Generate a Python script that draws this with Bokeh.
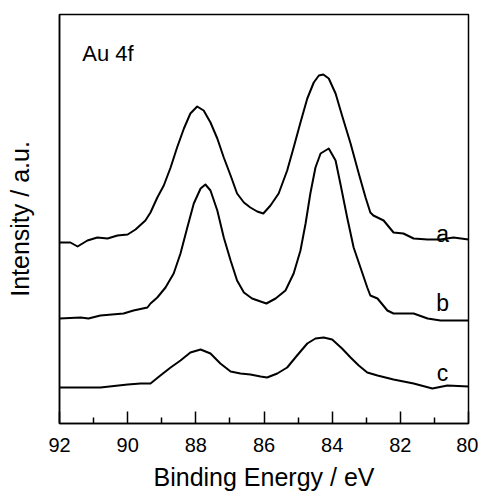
from bokeh.plotting import figure
from bokeh.models import Range1d, FixedTicker, Label
from bokeh.embed import file_html
from bokeh.resources import INLINE

# Binding energy (eV) and intensity (arbitrary units)
energy_a = [92.00, 91.68, 91.47, 91.18, 90.89, 90.59, 90.30, 90.00, 89.77, 89.48,
            89.33, 89.13, 88.94, 88.74, 88.55, 88.35, 88.16, 87.96, 87.77, 87.57,
            87.37, 87.18, 86.98, 86.79, 86.59, 86.40, 86.20, 86.02, 85.81, 85.57,
            85.32, 85.13, 84.93, 84.73, 84.54, 84.39, 84.26, 84.10, 83.90, 83.71,
            83.46, 83.22, 83.02, 82.88, 82.79, 82.49, 82.20, 81.91, 81.61, 81.20,
            80.82, 80.44, 80.00]
intens_a = [181, 181, 177, 183, 186, 185, 188, 189, 194, 203,
            211, 226, 238, 256, 276, 295, 310, 317, 313, 301,
            285, 266, 248, 230, 221, 216, 212, 210, 218, 230,
            253, 276, 301, 325, 341, 348, 349, 345, 330, 308,
            280, 250, 226, 211, 208, 203, 191, 190, 185, 184,
            184, 186, 184]

energy_b = [92.00, 91.38, 91.15, 90.80, 90.12, 89.83, 89.42, 89.33, 89.13, 88.89,
            88.65, 88.45, 88.25, 88.06, 87.86, 87.72, 87.57, 87.37, 87.18, 86.98,
            86.79, 86.59, 86.35, 86.10, 85.93, 85.66, 85.37, 85.13, 84.93, 84.78,
            84.64, 84.49, 84.34, 84.10, 83.90, 83.76, 83.56, 83.37, 83.17, 82.97,
            82.88, 82.67, 82.38, 82.20, 81.61, 81.20, 80.82, 80.00]
intens_b = [105, 106, 105, 108, 110, 113, 116, 120, 126, 136,
            150, 170, 196, 220, 235, 239, 233, 213, 186, 163,
            143, 131, 125, 122, 120, 125, 133, 150, 173, 200,
            230, 256, 270, 275, 263, 240, 206, 176, 156, 136,
            128, 125, 113, 110, 110, 105, 103, 103]

energy_c = [92.00, 90.80, 90.00, 89.62, 89.33, 89.04, 88.74, 88.45, 88.16, 87.86,
            87.57, 87.28, 86.98, 86.69, 86.40, 86.10, 85.91, 85.61, 85.32, 85.03,
            84.73, 84.49, 84.25, 84.00, 83.71, 83.46, 83.22, 82.97, 82.67, 82.20,
            81.61, 81.06, 80.62, 80.00]
intens_c = [36, 36, 39, 40, 40, 48, 56, 63, 71, 74,
            70, 60, 52, 50, 49, 47, 46, 50, 56, 68,
            80, 85, 86, 84, 75, 66, 58, 51, 48, 44,
            40, 35, 38, 37]

curve_names = ["a", "b", "c"]
label_energy = 80.76
label_intens = [190, 121, 51]

major_ticks = [92, 90, 88, 86, 84, 82, 80]
minor_ticks = [91, 89, 87, 85, 83, 81]

FONT = "Liberation Sans"

p = figure(width=478, height=494, output_backend="svg", toolbar_location=None,
           x_range=Range1d(92, 80), y_range=Range1d(0, 409),
           min_border_left=59, min_border_right=10, min_border_top=14, min_border_bottom=71)
p.grid.visible = False
p.outline_line_color = "black"
p.outline_line_width = 1.5
p.background_fill_color = "white"
p.border_fill_color = "white"

for xs, ys in [(energy_a, intens_a), (energy_b, intens_b), (energy_c, intens_c)]:
    p.line(xs, ys, line_color="black", line_width=2, line_join="round")

for name, yv in zip(curve_names, label_intens):
    p.add_layout(Label(x=label_energy, y=yv, text=name, text_font=FONT, text_font_size="23px",
                       text_align="center", text_baseline="middle", text_color="black"))

p.add_layout(Label(x=91.33, y=370, text="Au 4f", text_font=FONT, text_font_size="22px",
                   text_align="left", text_baseline="middle", text_color="black"))

xa = p.xaxis[0]
xa.ticker = FixedTicker(ticks=major_ticks, minor_ticks=minor_ticks)
xa.major_tick_in = 12
xa.major_tick_out = 0
xa.minor_tick_in = 6
xa.minor_tick_out = 0
xa.major_tick_line_width = 1.5
xa.minor_tick_line_width = 1.5
xa.axis_line_width = 1.5
xa.major_label_text_font = FONT
xa.major_label_text_font_size = "20px"
xa.major_label_text_color = "black"
xa.major_label_standoff = 14
xa.axis_label = "Binding Energy / eV"
xa.axis_label_text_font = FONT
xa.axis_label_text_font_size = "25px"
xa.axis_label_text_font_style = "normal"
xa.axis_label_text_color = "black"
xa.axis_label_standoff = 8

ya = p.yaxis[0]
ya.ticker = FixedTicker(ticks=[])
ya.major_tick_out = 0
ya.major_tick_in = 0
ya.minor_tick_out = 0
ya.minor_tick_in = 0
ya.major_label_standoff = 0
ya.axis_line_width = 1.5
ya.axis_label = "Intensity / a.u."
ya.axis_label_text_font = FONT
ya.axis_label_text_font_size = "25px"
ya.axis_label_text_font_style = "normal"
ya.axis_label_text_color = "black"
ya.axis_label_standoff = 26

open("out.html", "w").write(file_html(p, INLINE))
